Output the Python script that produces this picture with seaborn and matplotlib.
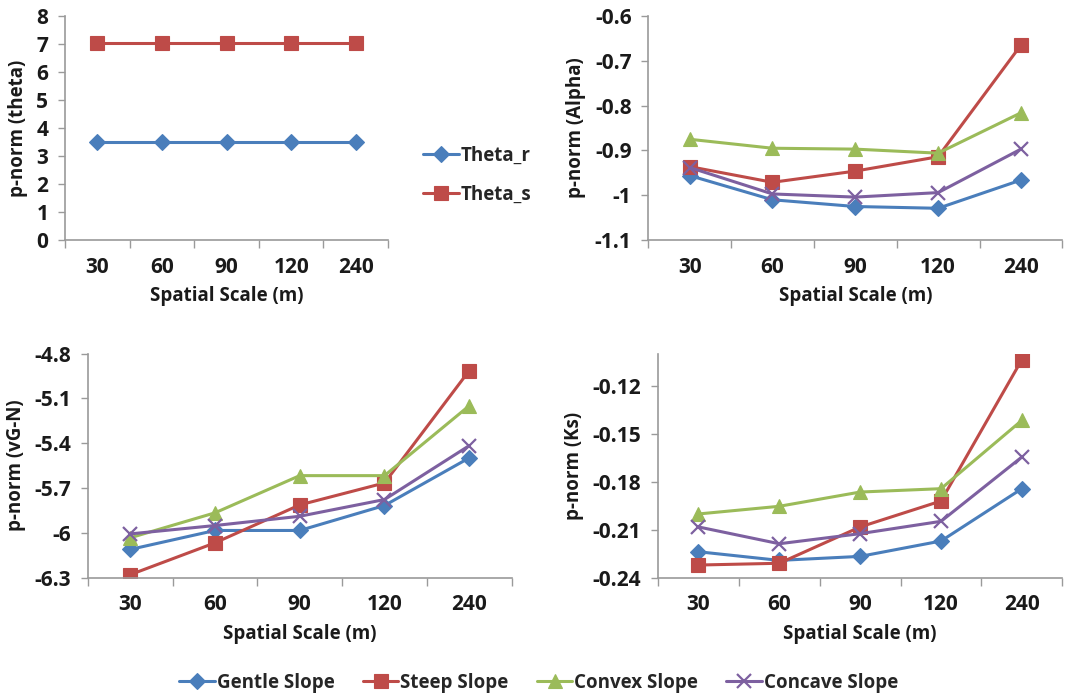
import matplotlib
matplotlib.use("Agg")
import matplotlib.pyplot as plt
import seaborn as sns
import pandas as pd
import numpy as np
from matplotlib.ticker import FixedLocator

scales = ["30", "60", "90", "120", "240"]

theta_r = [3.5, 3.5, 3.5, 3.5, 3.5]
theta_s = [7.03, 7.03, 7.03, 7.03, 7.03]

alpha_gentle = [-0.956, -1.010, -1.025, -1.029, -0.966]
alpha_steep = [-0.936, -0.971, -0.946, -0.914, -0.665]
alpha_convex = [-0.875, -0.895, -0.897, -0.906, -0.816]
alpha_concave = [-0.938, -0.997, -1.004, -0.994, -0.897]

n_gentle = [-6.111, -5.984, -5.984, -5.817, -5.498]
n_steep = [-6.280, -6.067, -5.813, -5.666, -4.914]
n_convex = [-6.033, -5.866, -5.617, -5.617, -5.149]
n_concave = [-6.007, -5.951, -5.889, -5.777, -5.416]

ks_gentle = [-0.2238, -0.2292, -0.2267, -0.2171, -0.1844]
ks_steep = [-0.2321, -0.2310, -0.2083, -0.1921, -0.1038]
ks_convex = [-0.2002, -0.1954, -0.1865, -0.1844, -0.1417]
ks_concave = [-0.2083, -0.2188, -0.2125, -0.2048, -0.1646]

slope_names = ["Gentle Slope", "Steep Slope", "Convex Slope", "Concave Slope"]
theta_names = ["Theta_r", "Theta_s"]

BLUE = "#4A7EBB"
RED = "#BE4B48"
GREEN = "#9BBB59"
PURPLE = "#7D60A0"

colors = {"Gentle Slope": BLUE, "Steep Slope": RED, "Convex Slope": GREEN,
          "Concave Slope": PURPLE, "Theta_r": BLUE, "Theta_s": RED}
markers = {"Gentle Slope": "D", "Steep Slope": "s", "Convex Slope": "^",
           "Concave Slope": "x", "Theta_r": "D", "Theta_s": "s"}
msizes = {"D": 8, "s": 9.5, "^": 10, "x": 10}

sns.set_theme(style="white")
plt.rcParams["font.family"] = ["Open Sans", "DejaVu Sans"]
plt.rcParams["font.weight"] = "bold"
plt.rcParams["axes.labelweight"] = "bold"

fig = plt.figure(figsize=(10.84, 6.96), dpi=100)

TICK_FS = 15
LABEL_FS = 13.5


def make_df(names, series):
    rows = []
    for name, vals in zip(names, series):
        for s, v in zip(scales, vals):
            rows.append({"scale": s, "value": v, "series": name})
    return pd.DataFrame(rows)


def draw(rect, names, series, ylim, yticks, ylabel, fmt):
    ax = fig.add_axes(rect)
    df = make_df(names, series)
    for name in names:
        sub = df[df["series"] == name]
        m = markers[name]
        sns.lineplot(data=sub, x="scale", y="value", ax=ax, color=colors[name],
                     linewidth=2.2, marker=m, markersize=msizes[m],
                     markeredgecolor=colors[name],
                     markeredgewidth=1.6 if m == "x" else 0.8,
                     label=name, legend=False, sort=False)
    ax.set_xlim(-0.5, 4.5)
    ax.set_ylim(*ylim)
    ax.set_yticks(yticks)
    ax.set_yticklabels([fmt(t) for t in yticks])
    ax.set_xticks(range(len(scales)))
    ax.set_xticklabels(scales)
    ax.xaxis.set_minor_locator(FixedLocator(np.arange(-0.5, 4.6, 1.0)))
    ax.tick_params(axis="x", which="major", length=0, pad=12, labelsize=TICK_FS, colors="#1a1a1a")
    ax.tick_params(axis="x", which="minor", length=6, width=1, color="#9a9a9a", direction="out", bottom=True)
    ax.tick_params(axis="y", length=5, width=1, color="#9a9a9a", direction="out", left=True,
                   labelsize=TICK_FS, colors="#1a1a1a", pad=7)
    for lab in ax.get_xticklabels() + ax.get_yticklabels():
        lab.set_fontweight("bold")
    for side in ["top", "right"]:
        ax.spines[side].set_visible(False)
    for side in ["left", "bottom"]:
        ax.spines[side].set_color("#9a9a9a")
        ax.spines[side].set_linewidth(1.2)
    ax.set_xlabel("Spatial Scale (m)", fontsize=LABEL_FS, fontweight="bold", labelpad=6, color="#1a1a1a")
    ax.set_ylabel(ylabel, fontsize=LABEL_FS, fontweight="bold", labelpad=6, color="#1a1a1a")
    ax.grid(False)
    ax.patch.set_alpha(0)
    return ax


def fmt_general(t):
    s = ("%.2f" % t).rstrip("0").rstrip(".")
    if s == "-0":
        s = "0"
    return s


ax1 = draw([0.060, 0.655, 0.298, 0.322], theta_names, [theta_r, theta_s],
           (0, 8), list(range(0, 9)), "p-norm (theta)", lambda t: "%d" % t)
ax2 = draw([0.598, 0.655, 0.382, 0.322], slope_names,
           [alpha_gentle, alpha_steep, alpha_convex, alpha_concave],
           (-1.1, -0.6), [-1.1, -1.0, -0.9, -0.8, -0.7, -0.6], "p-norm (Alpha)", fmt_general)
ax3 = draw([0.081, 0.170, 0.391, 0.322], slope_names,
           [n_gentle, n_steep, n_convex, n_concave],
           (-6.3, -4.8), [-6.3, -6.0, -5.7, -5.4, -5.1, -4.8], "p-norm (vG-N)", fmt_general)
ax4 = draw([0.607, 0.170, 0.373, 0.322], slope_names,
           [ks_gentle, ks_steep, ks_convex, ks_concave],
           (-0.24, -0.10), [-0.24, -0.21, -0.18, -0.15, -0.12], "p-norm (Ks)", fmt_general)

h1, l1 = ax1.get_legend_handles_labels()
fig.legend(h1, l1, loc="upper left", bbox_to_anchor=(0.375, 0.815), frameon=False,
           prop={"size": 13.5, "weight": "bold"}, handlelength=1.9, labelspacing=1.0,
           handletextpad=0.1)

h3, l3 = ax3.get_legend_handles_labels()
fig.legend(h3, l3, loc="center", bbox_to_anchor=(0.497, 0.019), ncol=4, frameon=False,
           prop={"size": 13.5, "weight": "bold"}, handlelength=1.9, columnspacing=1.5,
           handletextpad=0.1)

fig.savefig("out.png", dpi=100, facecolor="white")
